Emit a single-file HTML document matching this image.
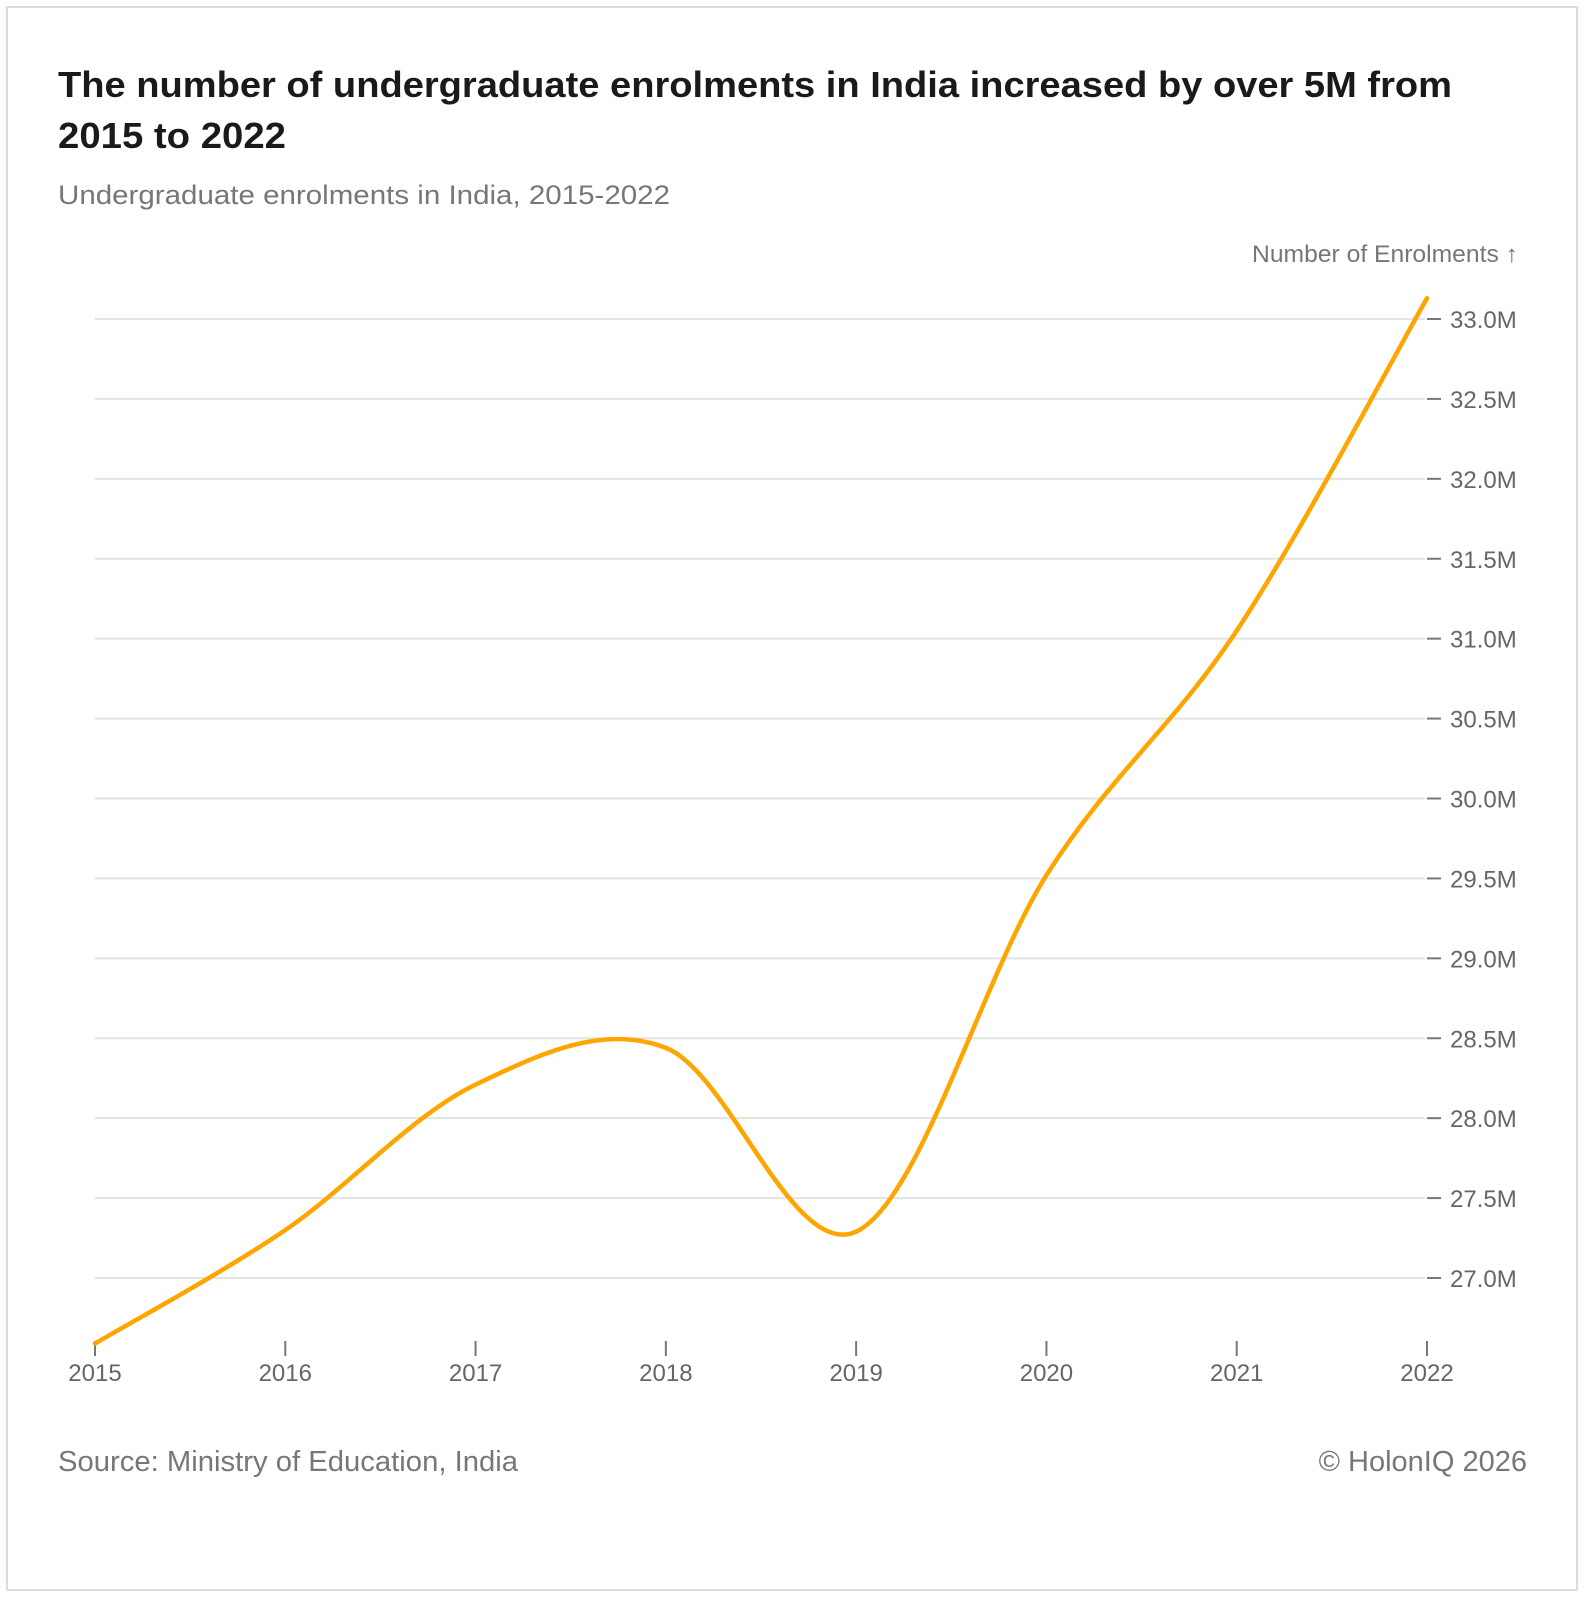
<!DOCTYPE html>
<html><head><meta charset="utf-8"><style>
html,body{margin:0;padding:0;background:#fff}
svg{display:block;font-family:"Liberation Sans",sans-serif}
</style></head><body>
<svg id="chart" width="1584" height="1600" viewBox="0 0 1584 1600">
<rect x="7" y="7" width="1570" height="1583" fill="#fff" stroke="#dcdcdc" stroke-width="2"/>
<text x="58" y="97" font-size="36" font-weight="bold" fill="#1a1a1a" textLength="1394" lengthAdjust="spacingAndGlyphs">The number of undergraduate enrolments in India increased by over 5M from</text>
<text x="58" y="148" font-size="36" font-weight="bold" fill="#1a1a1a" textLength="228" lengthAdjust="spacingAndGlyphs">2015 to 2022</text>
<text x="58" y="204" font-size="27" fill="#777" textLength="612" lengthAdjust="spacingAndGlyphs">Undergraduate enrolments in India, 2015-2022</text>
<text x="1518" y="262" font-size="24" fill="#777" text-anchor="end" textLength="266" lengthAdjust="spacingAndGlyphs">Number of Enrolments ↑</text>
<g id="grid"></g>
<g id="xaxis"></g>
<path id="line" fill="none" stroke="#FFA500" stroke-width="4.5" stroke-linecap="round"/>
<text x="58" y="1471" font-size="29" fill="#777" textLength="460" lengthAdjust="spacingAndGlyphs">Source: Ministry of Education, India</text>
<text x="1527" y="1471" font-size="29" fill="#777" text-anchor="end">© HolonIQ 2026</text>
</svg>
<script>
const years = [2015, 2016, 2017, 2018, 2019, 2020, 2021, 2022];
const enrolments = [26.59, 27.30, 28.21, 28.44, 27.29, 29.52, 31.05, 33.13];
const yTicks = [27.0, 27.5, 28.0, 28.5, 29.0, 29.5, 30.0, 30.5, 31.0, 31.5, 32.0, 32.5, 33.0];
const yTickLabels = ["27.0M","27.5M","28.0M","28.5M","29.0M","29.5M","30.0M","30.5M","31.0M","31.5M","32.0M","32.5M","33.0M"];

const NS = "http://www.w3.org/2000/svg";
function xS(v){ return 95 + (v - 2015) * (1427 - 95) / 7; }
function yS(v){ return 1278 - (v - 27) * (1278 - 319) / 6; }
function mk(tag, attrs, parent){ const e = document.createElementNS(NS, tag); for (const k in attrs) e.setAttribute(k, attrs[k]); parent.appendChild(e); return e; }

const grid = document.getElementById('grid');
yTicks.forEach((t, i) => {
  const y = yS(t);
  const gl = mk('line', {x1: 95, x2: 1425, y1: y, y2: y, stroke: '#e3e3e3', 'stroke-width': 2}, grid);
  
  
  const tk = mk('line', {x1: 1427, x2: 1441, y1: y, y2: y, stroke: '#777', 'stroke-width': 2}, grid);
  
  
  const tl = mk('text', {x: 1450, y: y + 9, 'font-size': 24, fill: '#666'}, grid);
  tl.textContent = yTickLabels[i];
  
  
});
const xa = document.getElementById('xaxis');
years.forEach(yr => {
  const x = xS(yr);
  const tk = mk('line', {x1: x, x2: x, y1: 1341, y2: 1356, stroke: '#777', 'stroke-width': 2}, xa);
  
  
  const tl = mk('text', {x: x, y: 1381, 'font-size': 24, fill: '#666', 'text-anchor': 'middle'}, xa);
  tl.textContent = yr;
  
  
});
const pts = years.map((yr, i) => [xS(yr), yS(enrolments[i])]);
let d = 'M' + pts[0][0] + ',' + pts[0][1];
for (let i = 0; i < pts.length - 1; i++) {
  const p0 = pts[Math.max(0, i - 1)], p1 = pts[i], p2 = pts[i + 1], p3 = pts[Math.min(pts.length - 1, i + 2)];
  const c1 = [p1[0] + (p2[0] - p0[0]) / 6, p1[1] + (p2[1] - p0[1]) / 6];
  const c2 = [p2[0] - (p3[0] - p1[0]) / 6, p2[1] - (p3[1] - p1[1]) / 6];
  d += ' C' + c1.join(',') + ' ' + c2.join(',') + ' ' + p2.join(',');
}
document.getElementById('line').setAttribute('d', d);
</script>
</body></html>
